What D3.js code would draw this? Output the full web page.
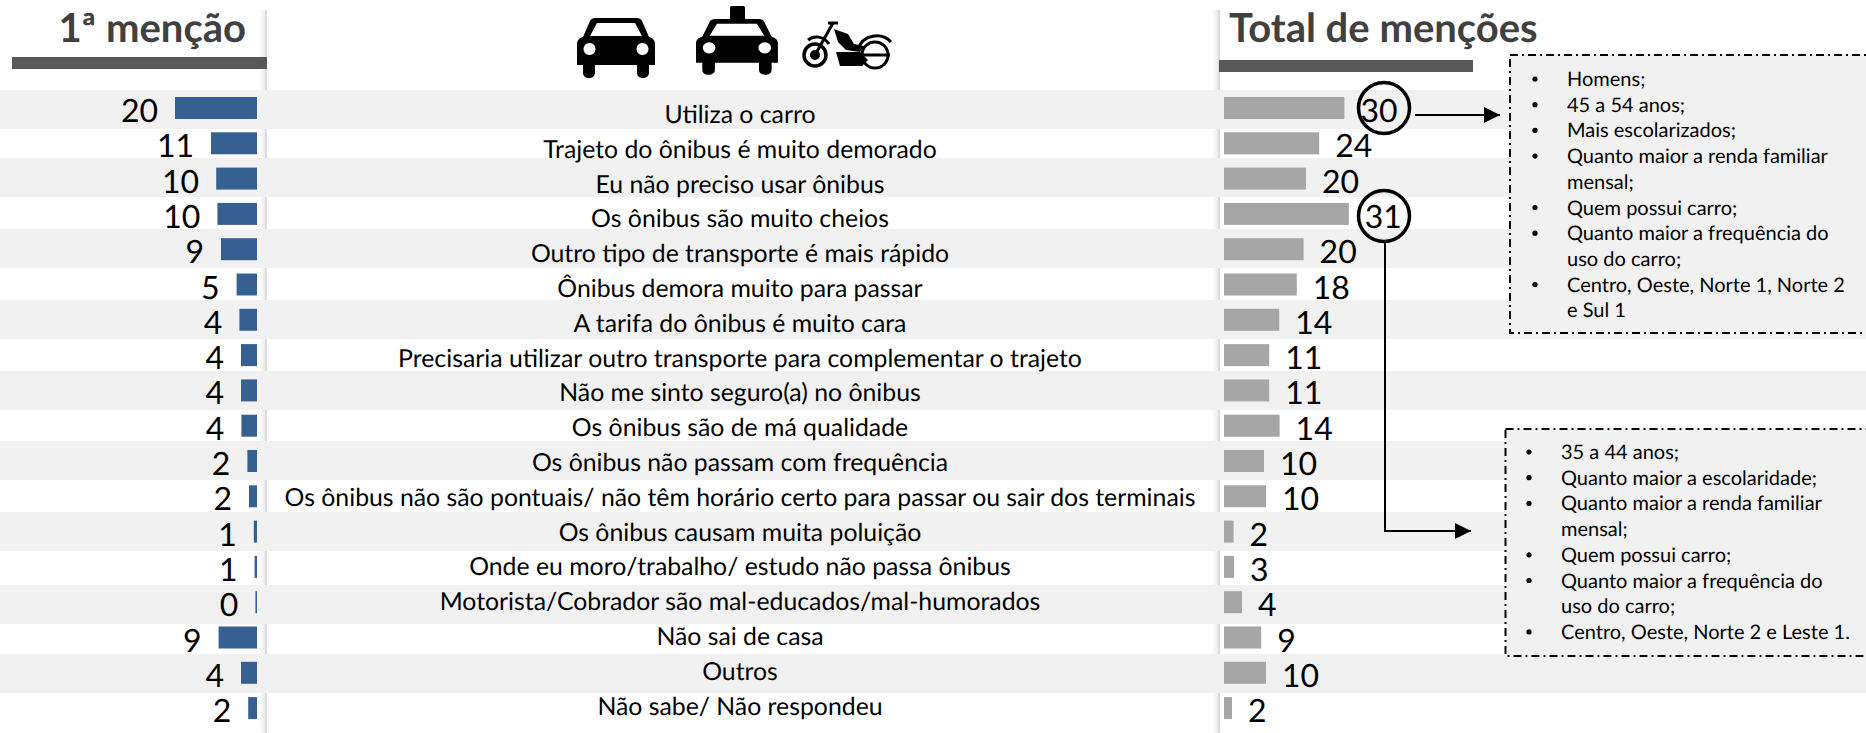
<!DOCTYPE html>
<html>
<head>
<meta charset="utf-8">
<script src="https://cdn.jsdelivr.net/npm/d3@7/dist/d3.min.js"></script>
<style>
html, body { margin: 0; padding: 0; background: #fff; }
svg { display: block; }
text { font-family: Lato, "Open Sans", sans-serif; fill: #000; text-rendering: geometricPrecision; }
</style>
</head>
<body>
<svg id="canvas" width="1866" height="733"></svg>
<script>
var categories = [
	"Utiliza o carro",
	"Trajeto do ônibus é muito demorado",
	"Eu não preciso usar ônibus",
	"Os ônibus são muito cheios",
	"Outro tipo de transporte é mais rápido",
	"Ônibus demora muito para passar",
	"A tarifa do ônibus é muito cara",
	"Precisaria utilizar outro transporte para complementar o trajeto",
	"Não me sinto seguro(a) no ônibus",
	"Os ônibus são de má qualidade",
	"Os ônibus não passam com frequência",
	"Os ônibus não são pontuais/ não têm horário certo para passar ou sair dos terminais",
	"Os ônibus causam muita poluição",
	"Onde eu moro/trabalho/ estudo não passa ônibus",
	"Motorista/Cobrador são mal-educados/mal-humorados",
	"Não sai de casa",
	"Outros",
	"Não sabe/ Não respondeu"
];

// bar lengths, printed labels are the rounded ones
var firstValues = [20.5, 11.5, 10.2, 9.9, 9.0, 5.1, 4.4, 4.0, 4.0, 3.9, 2.4, 2.0, 0.8, 0.6, 0.4, 9.6, 4.0, 2.2];
var firstLabels = [20, 11, 10, 10, 9, 5, 4, 4, 4, 4, 2, 2, 1, 1, 0, 9, 4, 2];
var totalValues = [30.1, 23.8, 20.5, 31.2, 19.9, 18.2, 13.8, 11.3, 11.3, 13.9, 10.0, 10.5, 2.4, 2.5, 4.5, 9.3, 10.5, 2.0];
var totalLabels = [30, 24, 20, 31, 20, 18, 14, 11, 11, 14, 10, 10, 2, 3, 4, 9, 10, 2];

var titleFirst = "1ª menção";
var titleTotal = "Total de menções";

var profileTop = [
	["Homens;"],
	["45 a 54 anos;"],
	["Mais escolarizados;"],
	["Quanto maior a renda familiar", "mensal;"],
	["Quem possui carro;"],
	["Quanto maior a frequência do", "uso do carro;"],
	["Centro, Oeste, Norte 1, Norte 2", "e Sul 1"]
];
var profileBottom = [
	["35 a 44 anos;"],
	["Quanto maior a escolaridade;"],
	["Quanto maior a renda familiar", "mensal;"],
	["Quem possui carro;"],
	["Quanto maior a frequência do", "uso do carro;"],
	["Centro, Oeste, Norte 2 e Leste 1."]
];

var width = 1866, height = 733;
var svg = d3.select("#canvas");
var defs = svg.append("defs");

// Rows
var rowMid = function(i) { return 108 + 35.3 * i; };
var labelY = d3.scaleLinear().domain([0, 17]).range([114, 705.6]);
var stripeEdges = [[90,129],[158,197],[229,268],[300,339],[371,410],[441,480],[512,551],[585,624],[654,693]];

var firstX = d3.scaleLinear().domain([0, 20.5]).range([257, 175]);
var totalX = d3.scaleLinear().domain([0, 30]).range([1224, 1344]);

// Divider lines, stripes paint over them
var shade = defs.append("linearGradient").attr("id", "shade");
shade.append("stop").attr("offset", "0").attr("stop-color", "#fff");
shade.append("stop").attr("offset", "1").attr("stop-color", "#ececec");

[265, 1218].forEach(function(x) {
	svg.append("rect").attr("x", x - 6).attr("y", 10).attr("width", 6).attr("height", height - 10).attr("fill", "url(#shade)");
	svg.append("rect").attr("x", x).attr("y", 10).attr("width", 2).attr("height", height - 10).attr("fill", "#dcdcdc");
});

svg.selectAll("rect.stripe")
	.data(stripeEdges)
	.enter().append("rect")
	.attr("class", "stripe")
	.attr("x", 0)
	.attr("y", function(d) { return d[0]; })
	.attr("width", width)
	.attr("height", function(d) { return d[1] - d[0]; })
	.attr("fill", "#f1f1f1");

// Titles
svg.append("rect").attr("x", 12).attr("y", 57).attr("width", 255).attr("height", 12).attr("fill", "#595959");
svg.append("rect").attr("x", 1219).attr("y", 60).attr("width", 254).attr("height", 12).attr("fill", "#595959");
svg.append("text").attr("x", 246).attr("y", 42).attr("text-anchor", "end")
	.style("font-size", "40px").style("font-weight", 700).style("fill", "#404040").text(titleFirst);
svg.append("text").attr("x", 1229).attr("y", 42)
	.style("font-size", "40px").style("font-weight", 700).style("fill", "#404040").text(titleTotal);

// First mention bars
svg.selectAll("rect.first")
	.data(firstValues)
	.enter().append("rect")
	.attr("class", "first")
	.attr("x", function(d) { return firstX(d); })
	.attr("y", function(d, i) { return rowMid(i) - 11; })
	.attr("width", function(d) { return firstX(0) - firstX(d); })
	.attr("height", 22)
	.attr("fill", "#376092");

svg.selectAll("text.first")
	.data(firstLabels)
	.enter().append("text")
	.attr("class", "first")
	.attr("x", function(d, i) { return firstX(firstValues[i]) - 17; })
	.attr("y", function(d, i) { return rowMid(i) + 14; })
	.attr("text-anchor", "end")
	.style("font-size", "32px")
	.text(function(d) { return d; });

// Total bars
svg.selectAll("rect.total")
	.data(totalValues)
	.enter().append("rect")
	.attr("class", "total")
	.attr("x", totalX(0))
	.attr("y", function(d, i) { return rowMid(i) - 11; })
	.attr("width", function(d) { return totalX(d) - totalX(0); })
	.attr("height", 22)
	.attr("fill", "#a6a6a6");

svg.selectAll("text.total")
	.data(totalLabels)
	.enter().append("text")
	.attr("class", "total")
	.attr("x", function(d, i) { return totalX(totalValues[i]) + 16; })
	.attr("y", function(d, i) { return rowMid(i) + 14; })
	.style("font-size", "32px")
	.text(function(d) { return d; });

// Category names
svg.selectAll("text.cat")
	.data(categories)
	.enter().append("text")
	.attr("class", "cat")
	.attr("x", 740)
	.attr("y", function(d, i) { return labelY(i) + 9; })
	.attr("text-anchor", "middle")
	.style("font-size", "24.8px")
	.text(function(d) { return d; });

// Highlight circles and arrows
[[1384, 108], [1384, 216]].forEach(function(c) {
	svg.append("circle").attr("cx", c[0]).attr("cy", c[1]).attr("r", 25.5)
		.attr("fill", "none").attr("stroke", "#000").attr("stroke-width", 3.5);
});

defs.append("marker").attr("id", "head")
	.attr("viewBox", "0 0 10 10").attr("refX", 10).attr("refY", 5)
	.attr("markerWidth", 16).attr("markerHeight", 16).attr("markerUnits", "userSpaceOnUse")
	.attr("orient", "auto")
	.append("path").attr("d", "M0,0L10,5L0,10Z").attr("fill", "#000");

svg.append("path").attr("d", "M1415,115H1500").attr("fill", "none").attr("stroke", "#000").attr("stroke-width", 2).attr("marker-end", "url(#head)");
svg.append("path").attr("d", "M1385,242V531H1471").attr("fill", "none").attr("stroke", "#000").attr("stroke-width", 2).attr("marker-end", "url(#head)");

// Profile boxes
function drawBox(lines, box) {
	svg.append("rect")
		.attr("x", box.x).attr("y", box.y)
		.attr("width", width + 20 - box.x).attr("height", box.h)
		.attr("fill", "#f1f1f1").attr("stroke", "#000").attr("stroke-width", 2)
		.attr("stroke-dasharray", "8 4 2 4");
	var row = 0;
	lines.forEach(function(item) {
		svg.append("circle").attr("cx", box.bullet).attr("cy", box.first + row * box.step).attr("r", 2.6).attr("fill", "#000");
		item.forEach(function(line) {
			svg.append("text")
				.attr("x", box.text)
				.attr("y", box.first + row * box.step + 7)
				.style("font-size", "20px")
				.text(line);
			row++;
		});
	});
}
drawBox(profileTop, {x: 1510, y: 55, h: 278, bullet: 1535, text: 1567, first: 79, step: 25.7});
drawBox(profileBottom, {x: 1505.5, y: 429, h: 227, bullet: 1529, text: 1561, first: 452, step: 25.7});

// Vehicle icons
function car(g) {
	g.append("path").attr("fill", "#000").attr("fill-rule", "evenodd")
		.attr("d", "M18,0H60C62,0 64,1 65,3L72,19C76,20 78,23 78,26V47H72V55C72,58 69,60 66,60C63,60 60,58 60,55V47H18V55C18,58 15,60 12,60C9,60 6,58 6,55V47H0V26C0,23 2,20 6,19L13,3C14,1 16,0 18,0Z"
			+ "M20,5L13,18H65L58,5Z"
			+ "M12.5,25a6,6 0 1,0 0.01,0Z M65.5,25a6,6 0 1,0 0.01,0Z");
}
car(svg.append("g").attr("transform", "translate(577,18)"));
var taxi = svg.append("g").attr("transform", "translate(696,6)");
car(taxi.append("g").attr("transform", "translate(0,13) scale(1.05,0.93)"));
taxi.append("rect").attr("x", 34).attr("y", 0).attr("width", 15).attr("height", 14).attr("rx", 1.5).attr("fill", "#000");

var moto = svg.append("g").attr("transform", "translate(802,20)").attr("fill", "none").attr("stroke", "#000");
moto.append("circle").attr("cx", 13).attr("cy", 35).attr("r", 11).attr("stroke-width", 3.5);
moto.append("circle").attr("cx", 13).attr("cy", 35).attr("r", 5).attr("fill", "#000").attr("stroke", "none");
moto.append("circle").attr("cx", 73).attr("cy", 35).attr("r", 13).attr("stroke-width", 3);
moto.append("path").attr("stroke-width", 3).attr("d", "M13,35L31,3M26,3H36M6,20C12,15 22,16 27,24");
moto.append("path").attr("stroke-width", 3).attr("d", "M56,30C60,14 80,12 89,22M60,35H88");
moto.append("path").attr("fill", "#000").attr("stroke", "none").attr("d", "M32,9L46,14L52,24L62,26L58,32L44,30L36,22Z");
moto.append("path").attr("fill", "#000").attr("stroke", "none").attr("d", "M34,32H58L66,40L60,46H38Z");
</script>
</body>
</html>
